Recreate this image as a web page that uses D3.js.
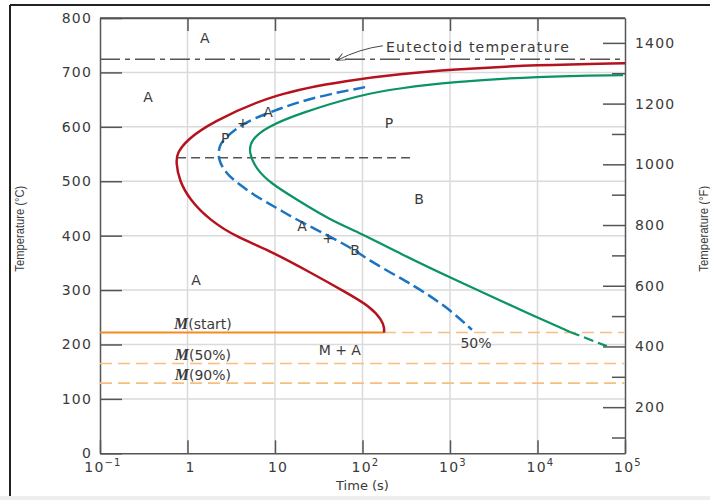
<!DOCTYPE html>
<html>
<head>
<meta charset="UTF-8">
<title>Isothermal transformation diagram</title>
<style>
  body { margin: 0; background: #fff; }
  text { font-family: "DejaVu Sans", sans-serif; fill: #3a3a3a; }
  .tick-label { font-size: 14px; letter-spacing: 1.2px; }
  .region { font-size: 14px; }
  .axis-title { font-family: "Liberation Sans Narrow", "Liberation Sans", sans-serif; font-size: 13px; }
</style>
</head>
<body>
<svg id="chart"></svg>
<script src="https://d3js.org/d3.v7.min.js"></script>
<script>
// ---- data ----
// time (s), temperature (°C)
var startCurve = [
  [1e5, 717], [1.0e4, 714], [1000, 705], [270, 697], [72, 686], [10, 662],
  [1.8, 607], [0.99, 576], [0.76, 552], [0.74, 535], [0.8, 502], [1.07, 465],
  [1.81, 428], [3.68, 397], [8.1, 375], [25, 333], [66, 295], [122, 270],
  [167, 245], [178, 230], [176, 222]
];
var halfCurve = [
  [107, 673], [25, 653], [8.8, 627], [4.3, 607], [2.7, 580], [2.3, 566],
  [2.22, 540], [2.75, 515], [3.68, 497], [6.2, 471], [10.5, 451], [16, 433],
  [30, 411], [82, 374], [112, 357], [270, 322], [378, 309], [925, 269],
  [1780, 227]
];
var finishCurve = [
  [9.5e4, 695], [1.0e4, 693], [1000, 682], [270, 671], [94, 659], [19.3, 625],
  [8.1, 600], [5.3, 576], [5.0, 552], [6.2, 521], [8.8, 497], [17.8, 466],
  [42.5, 429], [94, 405], [270, 367], [1000, 323], [1.01e4, 249], [2.35e4, 223]
];
var finishTail = [[2.35e4, 223], [6.2e4, 197]];

var eutectoidTemp = 724;
var noseTemp = 543, noseLine = [0.76, 378];
var mStartTemp = 222, mStartEnd = 176;
var m50Temp = 165, m90Temp = 129;

var timeDomain = [0.1, 1e5];
var tempDomain = [0, 800];
var fahrenheitDomain = [48, 1482];
var tempTicks = [0, 100, 200, 300, 400, 500, 600, 700, 800];
var timeTicks = [0.1, 1, 10, 100, 1000, 1e4, 1e5];
var timeTickLabels = [["10", "\u22121"], ["1", ""], ["10", ""], ["10", "2"], ["10", "3"], ["10", "4"], ["10", "5"]];
var fahrenheitMajor = [200, 400, 600, 800, 1000, 1200, 1400];
var fahrenheitMinor = [100, 300, 500, 700, 900, 1100, 1300];

// region labels: text, time, temperature
var regionLabels = [
  ["A", 1.58, 763], ["A", 0.354, 655], ["A", 1.25, 319], ["P", 201, 607],
  ["B", 443, 467], ["P", 2.69, 580], ["+", 4.3, 607], ["A", 8.3, 627],
  ["A", 20.4, 418], ["+", 40.4, 396], ["B", 82, 374], ["M + A", 55, 190],
  ["50%", 1980, 203]
];
var mLabels = [["(start)", 1.5, 238], ["(50%)", 1.5, 180], ["(90%)", 1.5, 143]];

// ---- layout ----
var W = 710, H = 500;
var margin = {top: 18, right: 85, bottom: 46.7, left: 100};
var width = W - margin.left - margin.right,
    height = H - margin.top - margin.bottom;

var root = d3.select("#chart").attr("width", W).attr("height", H);

// outer frame
root.append("rect").attr("x", 0).attr("y", 496).attr("width", W).attr("height", 4).attr("fill", "#eeeeee");
root.append("line").attr("x1", 10).attr("x2", W).attr("y1", 5).attr("y2", 5).attr("stroke", "#222").attr("stroke-width", 2);
root.append("line").attr("x1", 10).attr("x2", 10).attr("y1", 5).attr("y2", 496).attr("stroke", "#222").attr("stroke-width", 2);

var svg = root.append("g").attr("transform", "translate(" + margin.left + "," + margin.top + ")");

var x = d3.scaleLog().domain(timeDomain).range([0, width]);
var y = d3.scaleLinear().domain(tempDomain).range([height, 0]);
var yF = d3.scaleLinear().domain(fahrenheitDomain).range([height, 0]);

// grid
svg.append("g").selectAll("line").data(tempTicks.slice(1, -1)).enter().append("line")
  .attr("x1", 0).attr("x2", width).attr("y1", y).attr("y2", y)
  .attr("stroke", "#dadada").attr("stroke-width", 1.5);
svg.append("g").selectAll("line").data(timeTicks.slice(1, -1)).enter().append("line")
  .attr("y1", 0).attr("y2", height).attr("x1", x).attr("x2", x)
  .attr("stroke", "#dadada").attr("stroke-width", 1.5);

// axes (ticks drawn inward)
var axes = svg.append("g").attr("class", "axes");
var left = axes.append("g").call(d3.axisLeft(y).tickValues(tempTicks).tickSize(-22).tickSizeOuter(0));
left.selectAll("text").attr("class", "tick-label").attr("x", -8);

var right = axes.append("g").attr("transform", "translate(" + width + ",0)")
  .call(d3.axisRight(yF).tickValues(fahrenheitMajor).tickSize(-22).tickSizeOuter(0).tickFormat(d3.format("d")));
right.selectAll("text").attr("class", "tick-label").attr("x", 10);
axes.append("g").attr("transform", "translate(" + width + ",0)")
  .call(d3.axisRight(yF).tickValues(fahrenheitMinor).tickSize(-13).tickSizeOuter(0).tickFormat(""))
  .select(".domain").remove();

axes.append("g").attr("transform", "translate(0," + height + ")")
  .call(d3.axisBottom(x).tickValues(timeTicks).tickSize(-13).tickSizeOuter(0).tickFormat(""));
axes.append("g").call(d3.axisTop(x).tickValues(timeTicks.slice(1, -1)).tickSize(-13).tickSizeOuter(0).tickFormat(""));
axes.append("line").attr("x1", 0).attr("x2", width).attr("y1", 0).attr("y2", 0);

axes.selectAll(".domain, .tick line, line").attr("stroke", "#555").attr("stroke-width", 1.5);
axes.selectAll(".tick text").attr("fill", "#3a3a3a").attr("font-family", null).attr("font-size", null);

// time tick labels with superscripts
var tl = svg.append("g").selectAll("text").data(timeTicks).enter().append("text")
  .attr("class", "tick-label").attr("text-anchor", "middle")
  .attr("x", function(d) { return x(d) + 3; }).attr("y", height + 19);
tl.append("tspan").text(function(d, i) { return timeTickLabels[i][0]; });
tl.append("tspan").attr("dy", -6).style("font-size", "10px")
  .text(function(d, i) { return timeTickLabels[i][1]; });

// axis titles
svg.append("text").attr("text-anchor", "middle")
  .attr("x", x(100)).attr("y", height + 37).style("font-size", "13px")
  .text("Time (s)");
svg.append("text").attr("class", "axis-title").attr("text-anchor", "middle")
  .attr("transform", "translate(" + (-76) + "," + (y(400) - 7) + ") rotate(-90)")
  .attr("textLength", 86).attr("lengthAdjust", "spacingAndGlyphs")
  .text("Temperature (\u00B0C)");
svg.append("text").attr("class", "axis-title").attr("text-anchor", "middle")
  .attr("transform", "translate(" + (width + 83) + "," + (y(400) - 7) + ") rotate(-90)")
  .attr("textLength", 86).attr("lengthAdjust", "spacingAndGlyphs")
  .text("Temperature (\u00B0F)");

// horizontal reference lines
function hline(t0, t1, temp, color, w, dash) {
  svg.append("line").attr("x1", x(t0)).attr("x2", x(t1)).attr("y1", y(temp)).attr("y2", y(temp))
    .attr("stroke", color).attr("stroke-width", w).attr("stroke-dasharray", dash);
}
hline(timeDomain[0], timeDomain[1], eutectoidTemp, "#555", 1.5, "20,5,5,5");
hline(noseLine[0], noseLine[1], noseTemp, "#555", 1.5, "9,5");
hline(mStartEnd, timeDomain[1], mStartTemp, "#fbbd7e", 1.6, "12,6");
hline(timeDomain[0], timeDomain[1], m50Temp, "#fbbd7e", 1.6, "12,6");
hline(timeDomain[0], timeDomain[1], m90Temp, "#fbbd7e", 1.6, "12,6");
hline(timeDomain[0], mStartEnd, mStartTemp, "#f58a1f", 2.2, null);

// curves
var line = d3.line().x(function(d) { return x(d[0]); }).y(function(d) { return y(d[1]); })
  .curve(d3.curveBasis);
svg.append("path").datum(startCurve).attr("d", line).attr("fill", "none")
  .attr("stroke", "#b5121d").attr("stroke-width", 2.5);
svg.append("path").datum(finishCurve).attr("d", line).attr("fill", "none")
  .attr("stroke", "#0a9466").attr("stroke-width", 2.2);
svg.append("path").datum(finishTail).attr("d", line).attr("fill", "none")
  .attr("stroke", "#0a9466").attr("stroke-width", 2.2).attr("stroke-dasharray", "10,5");
svg.append("path").datum(halfCurve).attr("d", line).attr("fill", "none")
  .attr("stroke", "#1a74c4").attr("stroke-width", 2.5).attr("stroke-dasharray", "12,5");

// eutectoid label + arrow
svg.append("defs").append("marker").attr("id", "arr").attr("viewBox", "0 0 10 10")
  .attr("refX", 9).attr("refY", 5).attr("markerWidth", 9).attr("markerHeight", 9).attr("orient", "auto")
  .append("path").attr("d", "M0,1 L9,5 L0,9").attr("fill", "none").attr("stroke", "#444").attr("stroke-width", 1);
var a0 = [x(171), y(749)], a1 = [x(51), y(eutectoidTemp) + 1];
svg.append("path")
  .attr("d", "M" + a0 + " Q" + [(a0[0] + a1[0]) / 2, a0[1] + 3] + " " + a1)
  .attr("fill", "none").attr("stroke", "#444").attr("stroke-width", 1).attr("marker-end", "url(#arr)");
svg.append("text").attr("x", x(186)).attr("y", y(747) + 5).style("font-size", "14px")
  .style("letter-spacing", "1.2px").text("Eutectoid temperature");

// region labels
svg.append("g").selectAll("text").data(regionLabels).enter().append("text")
  .attr("class", "region").attr("text-anchor", "middle")
  .attr("x", function(d) { return x(d[1]); }).attr("y", function(d) { return y(d[2]) + 5; })
  .text(function(d) { return d[0]; });

var ml = svg.append("g").selectAll("text").data(mLabels).enter().append("text")
  .attr("class", "region").attr("text-anchor", "middle")
  .attr("x", function(d) { return x(d[1]); }).attr("y", function(d) { return y(d[2]) + 5; });
ml.append("tspan").text("M").style("font-family", "'Liberation Serif', serif")
  .style("font-style", "italic").style("font-weight", "bold").style("font-size", "16px");
ml.append("tspan").text(function(d) { return d[0]; });
</script>
</body>
</html>
